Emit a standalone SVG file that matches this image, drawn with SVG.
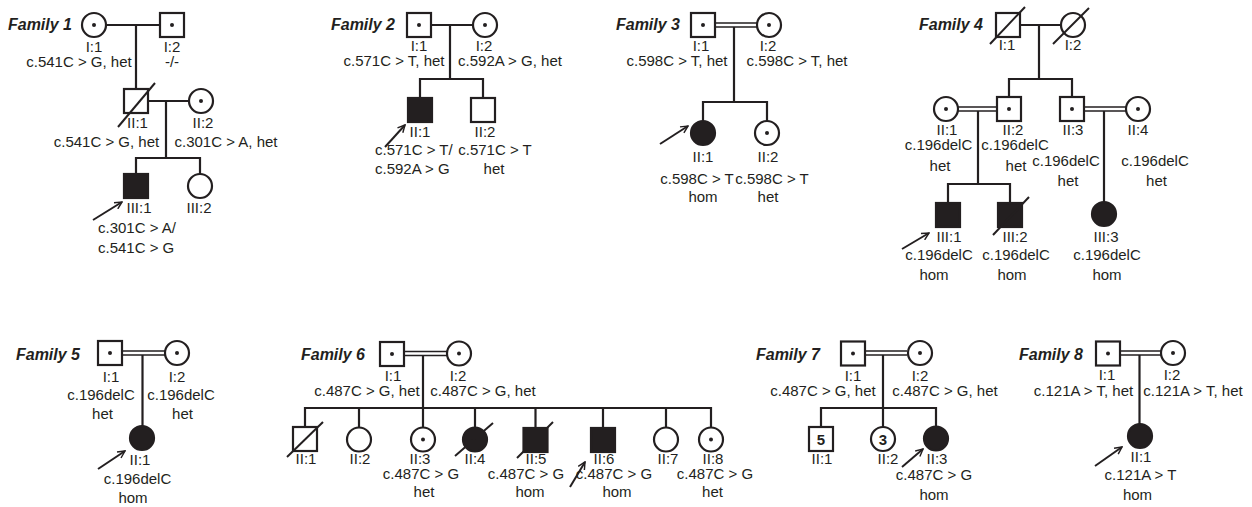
<svg xmlns="http://www.w3.org/2000/svg" width="1252" height="507" viewBox="0 0 1252 507">
<style>
.s{fill:#fff;stroke:#231f20;stroke-width:2.2}
.a{fill:#231f20;stroke:#231f20;stroke-width:2.2}
.c{fill:none;stroke:#231f20;stroke-width:2.2}
.d{fill:none;stroke:#231f20;stroke-width:1.5}
.x{fill:none;stroke:#231f20;stroke-width:2}
.p{fill:#231f20}
.t{font-family:"Liberation Sans",Arial,sans-serif;font-size:15px;fill:#231f20;text-anchor:middle}
.l{text-anchor:start}
.f{font-family:"Liberation Sans",Arial,sans-serif;font-size:16px;font-weight:bold;font-style:italic;fill:#231f20;text-anchor:end}
.n{font-family:"Liberation Sans",Arial,sans-serif;font-size:15px;font-weight:bold;fill:#231f20;text-anchor:middle}
</style>
<defs>
<marker id="arr" viewBox="0 0 10 10" refX="9" refY="5" markerWidth="9" markerHeight="9" markerUnits="userSpaceOnUse" orient="auto">
<path d="M1,1 L9,5 L1,9" fill="none" stroke="#231f20" stroke-width="1.6"/>
</marker>
</defs>
<rect width="1252" height="507" fill="#fff"/>

<!-- Titles -->
<g id="titles">
<text class="f" x="72" y="30">Family 1</text>
<text class="f" x="395" y="30">Family 2</text>
<text class="f" x="680" y="30">Family 3</text>
<text class="f" x="983" y="30">Family 4</text>
<text class="f" x="80" y="360">Family 5</text>
<text class="f" x="365" y="360">Family 6</text>
<text class="f" x="820" y="360">Family 7</text>
<text class="f" x="1083" y="360">Family 8</text>
</g>

<!-- Connectors -->
<g id="connectors">
<!-- F1 -->
<path class="c" d="M106,25H160M136,25V89M148,101H189M166,101V158M136,174V158H200V174"/>
<!-- F2 -->
<path class="c" d="M431,25H473M450,25V79M420,98V79H483V98"/>
<!-- F3 -->
<path class="d" d="M715,23H757M715,27H757"/>
<path class="c" d="M734,27V102M703,121V102H767V121"/>
<!-- F4 -->
<path class="c" d="M1020,25H1061M1039,25V79M1009,97V79H1072V97"/>
<path class="d" d="M958,107H997M958,111H997M1084,107H1126M1084,111H1126"/>
<path class="c" d="M978,111V184M948,203V184H1010V203M1104,111V202"/>
<!-- F5 -->
<path class="d" d="M122,351H165M122,355H165"/>
<path class="c" d="M142.5,355V426"/>
<!-- F6 -->
<path class="d" d="M404,351.5H447M404,355.5H447"/>
<path class="c" d="M423,355.5V408M305,427V408H711V427M359,408V427M423,408V427M475,408V427M535.5,408V428M603,408V428M666,408V427"/>
<!-- F7 -->
<path class="d" d="M865,351H907M865,355H907"/>
<path class="c" d="M883,355V408M821,427V408H936V426M883,408V427"/>
<!-- F8 -->
<path class="d" d="M1120,351H1161M1120,355H1161"/>
<path class="c" d="M1139.5,355V424"/>
<!-- proband arrows -->
<g class="x" marker-end="url(#arr)">
<line x1="93" y1="220" x2="122" y2="202"/>
<line x1="385" y1="147" x2="405" y2="125"/>
<line x1="660" y1="144" x2="688" y2="126"/>
<line x1="902" y1="249" x2="929" y2="233"/>
<line x1="98" y1="469" x2="125" y2="451"/>
<line x1="570" y1="487" x2="585" y2="462"/>
<line x1="902" y1="467" x2="923" y2="449"/>
<line x1="1095" y1="466" x2="1122" y2="447"/>
</g>
</g>

<!-- Family 1 -->
<g id="f1-I1"><circle class="s" cx="94" cy="25" r="12"/><circle class="p" cx="94" cy="25" r="2"/>
<text class="t" x="94" y="51.5">I:1</text><text class="t" x="79" y="66.5">c.541C &gt; G, het</text></g>
<g id="f1-I2"><rect class="s" x="160" y="13" width="24" height="24"/><circle class="p" cx="172" cy="25" r="2"/>
<text class="t" x="172" y="51.5">I:2</text><text class="t" x="172" y="66.5">-/-</text></g>
<g id="f1-II1"><rect class="s" x="124" y="89" width="24" height="24"/><line class="x" x1="118" y1="127" x2="155" y2="83"/>
<text class="t" x="137.5" y="128">II:1</text><text class="t" x="106.5" y="146.5">c.541C &gt; G, het</text></g>
<g id="f1-II2"><circle class="s" cx="201" cy="101" r="12"/><circle class="p" cx="201" cy="101" r="2"/>
<text class="t" x="203" y="128">II:2</text><text class="t" x="226" y="146.5">c.301C &gt; A, het</text></g>
<g id="f1-III1"><rect class="a" x="124" y="174" width="24" height="24"/>
<text class="t" x="139" y="213">III:1</text><text class="t l" x="98" y="233">c.301C &gt; A/</text><text class="t l" x="98" y="252.5">c.541C &gt; G</text></g>
<g id="f1-III2"><circle class="s" cx="200" cy="186" r="12"/>
<text class="t" x="199" y="213">III:2</text></g>

<!-- Family 2 -->
<g id="f2-I1"><rect class="s" x="407" y="13" width="24" height="24"/><circle class="p" cx="419" cy="25" r="2"/>
<text class="t" x="419" y="51">I:1</text><text class="t" x="394" y="66">c.571C &gt; T, het</text></g>
<g id="f2-I2"><circle class="s" cx="485" cy="25" r="12"/><circle class="p" cx="485" cy="25" r="2"/>
<text class="t" x="484" y="51">I:2</text><text class="t" x="510" y="66">c.592A &gt; G, het</text></g>
<g id="f2-II1"><rect class="a" x="408" y="98" width="24" height="24"/>
<text class="t" x="420" y="136.5">II:1</text><text class="t l" x="375" y="155">c.571C &gt; T/</text><text class="t l" x="375" y="174">c.592A &gt; G</text></g>
<g id="f2-II2"><rect class="s" x="471" y="98" width="24" height="24"/>
<text class="t" x="485" y="136.5">II:2</text><text class="t" x="495" y="155">c.571C &gt; T</text><text class="t" x="494" y="174">het</text></g>

<!-- Family 3 -->
<g id="f3-I1"><rect class="s" x="691" y="13" width="24" height="24"/><circle class="p" cx="703" cy="25" r="2"/>
<text class="t" x="701" y="50.5">I:1</text><text class="t" x="677" y="65.5">c.598C &gt; T, het</text></g>
<g id="f3-I2"><circle class="s" cx="769" cy="25" r="12"/><circle class="p" cx="769" cy="25" r="2"/>
<text class="t" x="768" y="50.5">I:2</text><text class="t" x="797" y="65.5">c.598C &gt; T, het</text></g>
<g id="f3-II1"><circle class="a" cx="703" cy="133" r="12"/>
<text class="t" x="703" y="161.5">II:1</text><text class="t" x="697" y="183.5">c.598C &gt; T</text><text class="t" x="703" y="201.5">hom</text></g>
<g id="f3-II2"><circle class="s" cx="767" cy="133" r="12"/><circle class="p" cx="767" cy="133" r="2"/>
<text class="t" x="768" y="161.5">II:2</text><text class="t" x="772" y="183.5">c.598C &gt; T</text><text class="t" x="768" y="201.5">het</text></g>

<!-- Family 4 -->
<g id="f4-I1"><rect class="s" x="996" y="13" width="24" height="24"/><line class="x" x1="990" y1="44" x2="1025" y2="7"/>
<text class="t" x="1007" y="50">I:1</text></g>
<g id="f4-I2"><circle class="s" cx="1073" cy="25" r="12"/><line class="x" x1="1053" y1="44" x2="1089" y2="8"/>
<text class="t" x="1073" y="50">I:2</text></g>
<g id="f4-II1"><circle class="s" cx="946" cy="109" r="12"/><circle class="p" cx="946" cy="109" r="2"/>
<text class="t" x="947" y="135">II:1</text><text class="t" x="938.5" y="150">c.196delC</text><text class="t" x="940" y="170.5">het</text></g>
<g id="f4-II2"><rect class="s" x="997" y="97" width="24" height="24"/><circle class="p" cx="1009" cy="109" r="2"/>
<text class="t" x="1013" y="135">II:2</text><text class="t" x="1015" y="150">c.196delC</text><text class="t" x="1016" y="170.5">het</text></g>
<g id="f4-II3"><rect class="s" x="1060" y="97" width="24" height="24"/><circle class="p" cx="1072" cy="109" r="2"/>
<text class="t" x="1073" y="135">II:3</text><text class="t" x="1066" y="166">c.196delC</text><text class="t" x="1068" y="186">het</text></g>
<g id="f4-II4"><circle class="s" cx="1138" cy="109" r="12"/><circle class="p" cx="1138" cy="109" r="2"/>
<text class="t" x="1138" y="135">II:4</text><text class="t" x="1155" y="166">c.196delC</text><text class="t" x="1156.5" y="186">het</text></g>
<g id="f4-III1"><rect class="a" x="936" y="203" width="24" height="24"/>
<text class="t" x="949" y="241.5">III:1</text><text class="t" x="939" y="260">c.196delC</text><text class="t" x="934" y="280">hom</text></g>
<g id="f4-III2"><rect class="a" x="998" y="203" width="24" height="24"/><line class="x" x1="993" y1="235" x2="1029" y2="197"/>
<text class="t" x="1015" y="241.5">III:2</text><text class="t" x="1016" y="260">c.196delC</text><text class="t" x="1012" y="280">hom</text></g>
<g id="f4-III3"><circle class="a" cx="1104" cy="214" r="12"/>
<text class="t" x="1106" y="241.5">III:3</text><text class="t" x="1107" y="260">c.196delC</text><text class="t" x="1107" y="280">hom</text></g>

<!-- Family 5 -->
<g id="f5-I1"><rect class="s" x="98" y="341" width="24" height="24"/><circle class="p" cx="110" cy="353" r="2"/>
<text class="t" x="111" y="382">I:1</text><text class="t" x="101" y="399.5">c.196delC</text><text class="t" x="102.5" y="418.5">het</text></g>
<g id="f5-I2"><circle class="s" cx="177" cy="353" r="12"/><circle class="p" cx="177" cy="353" r="2"/>
<text class="t" x="177" y="382">I:2</text><text class="t" x="181" y="399.5">c.196delC</text><text class="t" x="182.5" y="418.5">het</text></g>
<g id="f5-II1"><circle class="a" cx="142" cy="438" r="12"/>
<text class="t" x="140" y="465">II:1</text><text class="t" x="137.5" y="483.5">c.196delC</text><text class="t" x="133" y="503">hom</text></g>

<!-- Family 6 -->
<g id="f6-I1"><rect class="s" x="380" y="342" width="24" height="24"/><circle class="p" cx="392" cy="354" r="2"/>
<text class="t" x="393" y="381">I:1</text><text class="t" x="367" y="396">c.487C &gt; G, het</text></g>
<g id="f6-I2"><circle class="s" cx="459" cy="353.5" r="12"/><circle class="p" cx="459" cy="353.5" r="2"/>
<text class="t" x="458" y="381">I:2</text><text class="t" x="483" y="396">c.487C &gt; G, het</text></g>
<g id="f6-II1"><rect class="s" x="293" y="427" width="24" height="24"/><line class="x" x1="287" y1="457" x2="323" y2="422"/>
<text class="t" x="306" y="463.5">II:1</text></g>
<g id="f6-II2"><circle class="s" cx="359" cy="439.5" r="12"/>
<text class="t" x="360" y="463.5">II:2</text></g>
<g id="f6-II3"><circle class="s" cx="423" cy="439.5" r="12"/><circle class="p" cx="423" cy="439.5" r="2"/>
<text class="t" x="420" y="463.5">II:3</text><text class="t" x="421" y="478.5">c.487C &gt; G</text><text class="t" x="424" y="497">het</text></g>
<g id="f6-II4"><circle class="a" cx="475" cy="439.5" r="12"/><line class="x" x1="455" y1="456" x2="493" y2="423"/>
<text class="t" x="475" y="463.5">II:4</text></g>
<g id="f6-II5"><rect class="a" x="523.5" y="428" width="24" height="24"/><line class="x" x1="517" y1="458" x2="553" y2="422"/>
<text class="t" x="536" y="463.5">II:5</text><text class="t" x="526" y="478.5">c.487C &gt; G</text><text class="t" x="530" y="497">hom</text></g>
<g id="f6-II6"><rect class="a" x="591" y="428" width="24" height="24"/>
<text class="t" x="604" y="463.5">II:6</text><text class="t" x="614" y="478.5">c.487C &gt; G</text><text class="t" x="617" y="497">hom</text></g>
<g id="f6-II7"><circle class="s" cx="666" cy="439.5" r="12"/>
<text class="t" x="668" y="463.5">II:7</text></g>
<g id="f6-II8"><circle class="s" cx="711" cy="439.5" r="12"/><circle class="p" cx="711" cy="439.5" r="2"/>
<text class="t" x="713" y="463.5">II:8</text><text class="t" x="715" y="478.5">c.487C &gt; G</text><text class="t" x="712.5" y="497">het</text></g>

<!-- Family 7 -->
<g id="f7-I1"><rect class="s" x="841" y="341.5" width="24" height="24"/><circle class="p" cx="853" cy="353.5" r="2"/>
<text class="t" x="853" y="381">I:1</text><text class="t" x="823" y="396">c.487C &gt; G, het</text></g>
<g id="f7-I2"><circle class="s" cx="920" cy="353" r="12"/><circle class="p" cx="920" cy="353" r="2"/>
<text class="t" x="920" y="381">I:2</text><text class="t" x="945" y="396">c.487C &gt; G, het</text></g>
<g id="f7-II1"><rect class="s" x="809" y="427" width="24" height="24"/><text class="n" x="821" y="444.5">5</text>
<text class="t" x="822" y="463.5">II:1</text></g>
<g id="f7-II2"><circle class="s" cx="883" cy="439" r="12"/><text class="n" x="883" y="444.5">3</text>
<text class="t" x="888" y="463.5">II:2</text></g>
<g id="f7-II3"><circle class="a" cx="936" cy="438.5" r="12"/>
<text class="t" x="937" y="463.5">II:3</text><text class="t" x="934" y="480">c.487C &gt; G</text><text class="t" x="934" y="500">hom</text></g>

<!-- Family 8 -->
<g id="f8-I1"><rect class="s" x="1096" y="341.5" width="24" height="24"/><circle class="p" cx="1108" cy="353.5" r="2"/>
<text class="t" x="1107" y="380">I:1</text><text class="t" x="1083.5" y="395.5">c.121A &gt; T, het</text></g>
<g id="f8-I2"><circle class="s" cx="1173" cy="353" r="12"/><circle class="p" cx="1173" cy="353" r="2"/>
<text class="t" x="1172" y="380">I:2</text><text class="t" x="1193" y="395.5">c.121A &gt; T, het</text></g>
<g id="f8-II1"><circle class="a" cx="1140" cy="436" r="12"/>
<text class="t" x="1141" y="461.5">II:1</text><text class="t" x="1140.5" y="479.5">c.121A &gt; T</text><text class="t" x="1137.5" y="500">hom</text></g>
</svg>
